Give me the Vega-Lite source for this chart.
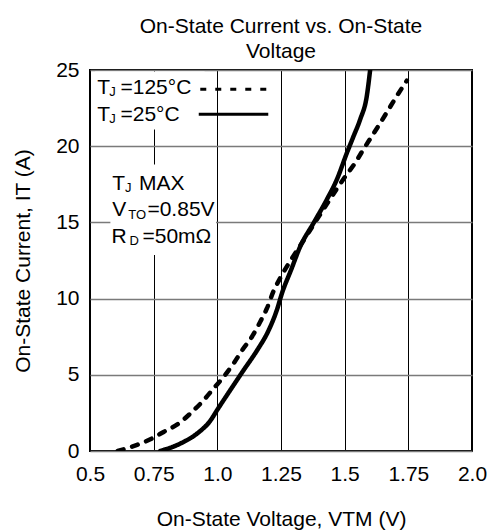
{
  "$schema": "https://vega.github.io/schema/vega-lite/v6.json",
  "width": 382,
  "height": 381,
  "autosize": {"type": "none"},
  "padding": {"left": 90, "top": 70, "right": 25, "bottom": 81},
  "background": "white",
  "config": {
    "font": "Liberation Sans",
    "view": {"stroke": "black", "strokeWidth": 2},
    "axis": {"labelFont": "Liberation Sans", "titleFont": "Liberation Sans", "labelColor": "black", "titleColor": "black", "labelFontSize": 21, "titleFontSize": 21, "titleFontWeight": "normal", "ticks": false, "domain": false}
  },
  "title": {
    "text": ["On-State Current vs. On-State", "Voltage"],
    "font": "Liberation Sans",
    "fontSize": 21,
    "fontWeight": "normal",
    "color": "black",
    "anchor": "middle",
    "lineHeight": 25,
    "offset": -3
  },
  "datasets": {
    "curves": [
      {"series": "125", "V": 0.609, "I": 0},
      {"series": "125", "V": 0.737, "I": 0.77},
      {"series": "125", "V": 0.789, "I": 1.25},
      {"series": "125", "V": 0.848, "I": 1.8},
      {"series": "125", "V": 0.894, "I": 2.46},
      {"series": "125", "V": 0.946, "I": 3.33},
      {"series": "125", "V": 0.985, "I": 4.1},
      {"series": "125", "V": 1.025, "I": 4.87},
      {"series": "125", "V": 1.064, "I": 5.75},
      {"series": "125", "V": 1.097, "I": 6.6},
      {"series": "125", "V": 1.136, "I": 7.5},
      {"series": "125", "V": 1.169, "I": 8.5},
      {"series": "125", "V": 1.195, "I": 9.37},
      {"series": "125", "V": 1.221, "I": 10.5},
      {"series": "125", "V": 1.247, "I": 11.35},
      {"series": "125", "V": 1.299, "I": 12.8},
      {"series": "125", "V": 1.338, "I": 13.8},
      {"series": "125", "V": 1.378, "I": 14.85},
      {"series": "125", "V": 1.43, "I": 16.2},
      {"series": "125", "V": 1.469, "I": 17.2},
      {"series": "125", "V": 1.502, "I": 18.0},
      {"series": "125", "V": 1.541, "I": 18.9},
      {"series": "125", "V": 1.574, "I": 19.8},
      {"series": "125", "V": 1.607, "I": 20.66},
      {"series": "125", "V": 1.639, "I": 21.5},
      {"series": "125", "V": 1.672, "I": 22.4},
      {"series": "125", "V": 1.705, "I": 23.3},
      {"series": "125", "V": 1.744, "I": 24.3},
      {"series": "25", "V": 0.776, "I": 0},
      {"series": "25", "V": 0.855, "I": 0.49},
      {"series": "25", "V": 0.92, "I": 1.14},
      {"series": "25", "V": 0.973, "I": 2.0},
      {"series": "25", "V": 0.999, "I": 2.68},
      {"series": "25", "V": 1.051, "I": 4.0},
      {"series": "25", "V": 1.103, "I": 5.3},
      {"series": "25", "V": 1.156, "I": 6.6},
      {"series": "25", "V": 1.201, "I": 7.9},
      {"series": "25", "V": 1.234, "I": 9.26},
      {"series": "25", "V": 1.254, "I": 10.36},
      {"series": "25", "V": 1.29, "I": 11.9},
      {"series": "25", "V": 1.325, "I": 13.4},
      {"series": "25", "V": 1.378, "I": 14.96},
      {"series": "25", "V": 1.43, "I": 16.5},
      {"series": "25", "V": 1.469, "I": 17.8},
      {"series": "25", "V": 1.509, "I": 19.57},
      {"series": "25", "V": 1.535, "I": 20.66},
      {"series": "25", "V": 1.561, "I": 21.76},
      {"series": "25", "V": 1.587, "I": 23.3},
      {"series": "25", "V": 1.6, "I": 25.0}
    ],
    "masks": [
      {"V": 0.52, "V2": 0.95, "I": 21.1, "I2": 24.9},
      {"V": 0.58, "V2": 0.995, "I": 12.86, "I2": 18.8}
    ],
    "samples": [
      {"series": "125", "V": 0.933, "V2": 1.2, "I": 23.73},
      {"series": "25", "V": 0.927, "V2": 1.2, "I": 22.09}
    ],
    "mainText": [
      {"t": "T", "V": 0.528, "I": 23.45},
      {"t": "=125°C", "V": 0.6196, "I": 23.45},
      {"t": "T", "V": 0.528, "I": 21.64},
      {"t": "=25°C", "V": 0.6196, "I": 21.64},
      {"t": "T", "V": 0.587, "I": 17.15},
      {"t": "MAX", "V": 0.692, "I": 17.15},
      {"t": "V", "V": 0.587, "I": 15.39},
      {"t": "=0.85V", "V": 0.7255, "I": 15.39},
      {"t": "R", "V": 0.584, "I": 13.64},
      {"t": "=50mΩ", "V": 0.706, "I": 13.64}
    ],
    "subText": [
      {"t": "J", "V": 0.576, "I": 23.3},
      {"t": "J", "V": 0.576, "I": 21.49},
      {"t": "J", "V": 0.637, "I": 17.0},
      {"t": "TO", "V": 0.65, "I": 15.24},
      {"t": "D", "V": 0.655, "I": 13.49}
    ]
  },
  "encoding": {
    "x": {
      "field": "V",
      "type": "quantitative",
      "scale": {"domain": [0.5, 2.0], "nice": false, "zero": false},
      "axis": {
        "values": [0.5, 0.75, 1, 1.25, 1.5, 1.75, 2],
        "format": ".2~f",
        "labelExpr": "datum.value === 1 ? '1.0' : datum.value === 2 ? '2.0' : datum.label",
        "labelFlush": false,
        "labelPadding": 12,
        "grid": true,
        "gridColor": "black",
        "gridWidth": 1,
        "gridOpacity": 1,
        "title": "On-State Voltage, VTM (V)",
        "titlePadding": 24
      }
    },
    "y": {
      "field": "I",
      "type": "quantitative",
      "scale": {"domain": [0, 25], "nice": false},
      "axis": {
        "values": [0, 5, 10, 15, 20, 25],
        "labelPadding": 11,
        "grid": true,
        "gridColor": "#7a7a7a",
        "gridWidth": 1.5,
        "gridOpacity": 1,
        "title": "On-State Current, IT (A)",
        "titlePadding": 22
      }
    }
  },
  "layer": [
    {
      "data": {"name": "masks"},
      "mark": {"type": "rect", "color": "white"},
      "encoding": {
        "x2": {"field": "V2"},
        "y2": {"field": "I2"}
      }
    },
    {
      "data": {"name": "curves"},
      "mark": {"type": "line", "color": "black", "strokeWidth": 4.5, "strokeCap": "round", "interpolate": "monotone", "clip": true},
      "encoding": {
        "detail": {"field": "series"},
        "strokeDash": {
          "field": "series",
          "type": "nominal",
          "scale": {"domain": ["125", "25"], "range": [[6, 9], [1, 0]]},
          "legend": null
        }
      }
    },
    {
      "data": {"name": "samples"},
      "mark": {"type": "rule", "color": "black", "strokeWidth": 3},
      "encoding": {
        "x2": {"field": "V2"},
        "strokeDash": {
          "field": "series",
          "type": "nominal",
          "scale": {"domain": ["125", "25"], "range": [[6, 4], [1, 0]]},
          "legend": null
        }
      }
    },
    {
      "data": {"name": "mainText"},
      "mark": {"type": "text", "align": "left", "baseline": "alphabetic", "fontSize": 21, "font": "Liberation Sans", "color": "black"},
      "encoding": {"text": {"field": "t"}}
    },
    {
      "data": {"name": "subText"},
      "mark": {"type": "text", "align": "left", "baseline": "alphabetic", "fontSize": 13, "font": "Liberation Sans", "color": "black"},
      "encoding": {"text": {"field": "t"}}
    }
  ]
}
